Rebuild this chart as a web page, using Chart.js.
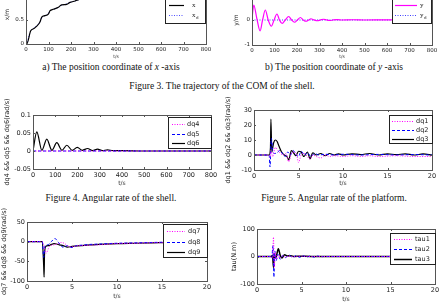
<!DOCTYPE html>
<html>
<head>
<meta charset="utf-8">
<script src="https://cdn.jsdelivr.net/npm/chart.js@4/dist/chart.umd.min.js"></script>
<style>
  body { margin: 0; width: 444px; height: 306px; overflow: hidden; background: #fff; position: relative; }
  canvas { position: absolute; }
  .cap { position: absolute; transform: translate(-50%, -50%); font-family: "Liberation Serif", serif; font-size: 9.5px; line-height: 1; white-space: nowrap; color: #111; }
</style>
</head>
<body>
<div class="cap" style="left:111px;top:68px">a) The position coordinate of <i>x</i> -axis</div>
<div class="cap" style="left:334px;top:68px">b) The position coordinate of <i>y</i> -axis</div>
<div class="cap" style="left:222px;top:87px">Figure 3. The trajectory of the COM of the shell.</div>
<div class="cap" style="left:111px;top:199px">Figure 4. Angular rate of the shell.</div>
<div class="cap" style="left:334px;top:199px">Figure 5. Angular rate of the platform.</div>
<script>
// ---- data ----
// a) x position
const tA   = [0, 3, 21, 33, 47, 62, 70, 84, 99, 107, 121, 144, 158, 181, 196, 218, 250, 300, 400, 500, 600, 700, 800];
const xA   = [0, 0, 0.27, 0.31, 0.36, 0.45, 0.55, 0.58, 0.61, 0.68, 0.71, 0.75, 0.80, 0.81, 0.85, 0.88, 0.93, 0.97, 1, 1, 1, 1, 1];
const xdA  = [0, 0.02, 0.27, 0.32, 0.37, 0.45, 0.54, 0.58, 0.62, 0.68, 0.71, 0.75, 0.79, 0.82, 0.85, 0.88, 0.93, 0.97, 1, 1, 1, 1, 1];
// b) y position
const tB   = [0, 8, 21, 36, 47, 59, 72, 86, 98, 111, 122, 134, 148, 163, 176, 189, 202, 215, 228, 240, 252, 262, 276, 290, 304, 318, 332, 346, 360, 380, 400, 450, 500, 600, 700, 800];
const yB   = [0.05, 0.6, 0.08, -0.44, 0, 0.4, 0, -0.25, 0, 0.24, 0, -0.14, 0, 0.14, 0, -0.09, 0, 0.1, 0, -0.05, 0, 0.05, 0, -0.03, 0, 0.03, 0, -0.02, 0, 0.015, 0, 0.01, 0, 0.005, 0, 0];
const tBd  = [0, 800];
const ydB  = [0, 0];
// Figure 4: shell angular rate
const t4   = [0, 17, 40, 62, 85, 107, 130, 152, 176, 199, 222, 245, 268, 290, 312, 335, 360, 400, 500, 800];
const dq6  = [0, 0.053, 0.002, 0.033, 0.002, 0.023, 0.002, 0.016, 0.002, 0.01, 0.002, 0.007, 0.001, 0.005, 0.001, 0.003, 0.001, 0.001, 0, 0];
const t4z  = [0, 800];
const dq4  = [0, 0];
const dq5  = [0, 0];
// Figure 5: platform angular rate
const t5a  = [0, 1.7, 1.8, 1.9, 2.1, 2.4, 2.7, 3.0, 3.3, 3.6, 3.9, 4.2, 4.5, 4.8, 5.0, 5.3, 5.6, 6.0, 6.3, 6.6, 7.0, 7.5, 8.0, 8.5, 9, 10, 11, 12, 13, 14, 16, 18, 20];
const dq1  = [0, 0, -2, 3, -1, 5, 3, 1, 0, 1, -4.5, 1, 2, 0, -5, 0, 1, -1, -3, 0, -1, -2, 0, -1, -0.5, -1, -0.5, -1, -0.5, -1, -0.5, -1, -1];
const t5b  = [0, 1.7, 1.8, 1.95, 2.1, 2.3, 2.6, 2.9, 3.2, 3.5, 3.8, 4.1, 4.4, 4.7, 5.0, 5.3, 5.7, 6.0, 6.4, 6.8, 7.3, 8, 9, 10, 12, 14, 16, 18, 20];
const dq2  = [0, 0, -8, 11, 3, 1, 1.5, 3, 1, -1, 2, 0, 3, 0.5, -1, 2.5, 0, 1.5, -1, 1, 0, 0.5, 0, 0.5, 0, 0.4, 0, 0.3, 0];
const t5c  = [0, 1.7, 1.85, 1.9, 2.0, 2.2, 2.4, 2.6, 2.8, 3.1, 3.4, 3.7, 3.9, 4.2, 4.5, 4.7, 5.0, 5.3, 5.6, 6.0, 6.3, 6.6, 7.0, 7.5, 8, 8.5, 9, 9.5, 10, 11, 12, 13, 14, 15, 16, 17, 18, 19, 20];
const dq3  = [0, 0, 5, 24, 2, 8, 10, 9, 6, 2, 0, -1, -3.3, 3, 1, -0.5, 2.5, 2, -1, 2, -2.5, 1.5, 0, 1, -0.5, 1, 0, 0.8, 0, 0.8, 0.3, 1, 0, 0.8, 0.2, 0.8, 0, 0.7, 0];
// Figure 6
const t6a  = [0, 1.7, 1.9, 2.1, 2.5, 3.0, 3.5, 3.8, 4.2, 4.6, 5.0, 5.5, 6, 7, 8, 10, 12, 14, 16, 20];
const dq7  = [0, 0, -12, -30, -12, -8, -5, -2, -5, -12, -13, -11, -10, -9, -8, -5, -4, -3, -2, -1];
const t6b  = [0, 1.7, 1.85, 2.0, 2.3, 2.7, 3.1, 3.5, 4.0, 4.5, 5.0, 5.5, 6, 7, 8, 10, 12, 14, 16, 20];
const dq8  = [0, 0, -40, -10, -8, 0, 8, -2, -14, -10, -15, -10, -9, -7, -6, -4, -3, -2, -1, -1];
const t6c  = [0, 1.7, 1.85, 1.9, 1.95, 2.1, 2.4, 2.7, 3.0, 3.3, 3.6, 4.0, 4.5, 5.0, 6, 7, 8, 10, 12, 14, 16, 18, 20];
const dq9  = [0, 0, -60, -90, -30, -12, -10, -7, -5, -6, -8, -10, -14, -12, -10, -8, -7, -5, -4, -3, -2, -2, -1];
// Figure 7: torques
const t7a  = [0, 1.6, 1.75, 1.85, 1.95, 2.05, 2.2, 2.4, 2.6, 2.9, 3.2, 3.6, 4, 5, 6, 20];
const tau1 = [0, 0, -5, 70, -40, 15, -10, 5, -5, 3, -3, 2, -1, 1, 0, 0];
const t7b  = [0, 1.5, 1.65, 1.8, 1.9, 2.0, 2.15, 2.35, 2.6, 2.9, 3.2, 3.6, 4.0, 4.4, 4.8, 5.2, 5.6, 6.0, 6.4, 6.8, 7.2, 7.5, 20];
const tau2 = [0, 0, -5, 40, -75, 20, -15, 8, -10, 4, -4, 5, -3, 3, -3, 2, -2, 2, -2, 1.5, -1, 0, 0];
const t7c  = [0, 1.6, 1.75, 1.85, 1.95, 2.1, 2.4, 2.6, 2.8, 3.1, 3.4, 3.8, 4.2, 5, 6, 20];
const tau3 = [0, 0, 5, -40, 10, -5, 28, 5, -5, 6, 2, 3, 0, 1, 0, 0];

// tick labels
const xTicks800 = [0, 100, 200, 300, 400, 500, 600, 700, 800];
const xTicks20  = [0, 5, 10, 15, 20];
const yTicksA   = [0, 0.5, 1];
const yTicksB   = [-1, 0, 1];
const yTicks4   = [-0.05, 0, 0.05, 0.1];
const yTicks5   = [-10, 0, 10, 20, 30];
const yTicks6   = [-100, -50, 0, 50];
const yTicks7   = [-100, 0, 100];

const pts = (t, v) => t.map((x, i) => ({ x: x, y: v[i] }));

const MAG = '#ff00ff', BLUE = '#0000ff', BLK = '#000000';
const DOT = [1, 1.5], DASH = [3, 2];

// MATLAB style box with inward ticks
const boxPlugin = {
  id: 'matBox',
  afterDatasetsDraw(chart) {
    const { ctx, chartArea: a, scales: { x, y } } = chart;
    ctx.save();
    ctx.strokeStyle = '#555';
    ctx.lineWidth = 1;
    ctx.beginPath();
    x.ticks.forEach(t => {
      const px = Math.round(x.getPixelForValue(t.value)) + 0.5;
      ctx.moveTo(px, a.bottom); ctx.lineTo(px, a.bottom - 2);
      ctx.moveTo(px, a.top); ctx.lineTo(px, a.top + 2);
    });
    y.ticks.forEach(t => {
      const py = Math.round(y.getPixelForValue(t.value)) + 0.5;
      ctx.moveTo(a.left, py); ctx.lineTo(a.left + 2, py);
      ctx.moveTo(a.right, py); ctx.lineTo(a.right - 2, py);
    });
    ctx.stroke();
    ctx.strokeRect(Math.round(a.left) + 0.5, Math.round(a.top) + 0.5, Math.round(a.width), Math.round(a.height));
    ctx.restore();
  }
};

// legend box drawn inside the plot
const legendPlugin = {
  id: 'matLegend',
  afterDatasetsDraw(chart, args, o) {
    const ctx = chart.ctx;
    const lx = o.x - o.ox, ly = o.y - o.oy;
    ctx.save();
    ctx.fillStyle = '#fff';
    ctx.fillRect(lx, ly, o.w, o.h);
    ctx.strokeStyle = '#222';
    ctx.lineWidth = 1;
    ctx.strokeRect(lx + 0.5, ly + 0.5, o.w, o.h);
    chart.data.datasets.forEach((ds, i) => {
      const yy = Math.round(ly + o.first + i * o.gap) + 0.5;
      ctx.beginPath();
      ctx.setLineDash(ds.borderDash || []);
      ctx.strokeStyle = ds.borderColor;
      ctx.lineWidth = ds.borderWidth;
      ctx.moveTo(lx + o.l0, yy);
      ctx.lineTo(lx + o.l1, yy);
      ctx.stroke();
      ctx.setLineDash([]);
      ctx.fillStyle = '#222';
      ctx.font = o.font;
      ctx.textBaseline = 'middle';
      ctx.fillText(ds.label, lx + o.tx, yy);
      if (ds.sub) {
        const w = ctx.measureText(ds.label).width;
        ctx.font = o.subFont;
        ctx.fillText(ds.sub, lx + o.tx + w + 0.5, yy + 2.5);
      }
    });
    ctx.restore();
  }
};

function makeChart(p) {
  const cv = document.createElement('canvas');
  cv.width = p.w; cv.height = p.h;
  cv.style.left = p.left + 'px';
  cv.style.top = p.top + 'px';
  cv.style.width = p.w + 'px';
  cv.style.height = p.h + 'px';
  document.body.appendChild(cv);

  const tickFont = { family: 'DejaVu Sans', size: p.tickSize };
  p.legend.ox = p.left;
  p.legend.oy = p.top;

  return new Chart(cv.getContext('2d'), {
    type: 'line',
    data: { datasets: p.datasets },
    plugins: [boxPlugin, legendPlugin],
    options: {
      responsive: false,
      animation: false,
      devicePixelRatio: 1,
      layout: { padding: { top: p.area.top - p.top, right: p.left + p.w - p.area.right, left: 0, bottom: 0 } },
      elements: { point: { radius: 0 }, line: { cubicInterpolationMode: 'monotone' } },
      plugins: { legend: { display: false }, tooltip: { enabled: false }, matLegend: p.legend },
      scales: {
        x: {
          type: 'linear', min: p.xMin, max: p.xMax,
          afterBuildTicks: s => { s.ticks = p.xTicks.map(v => ({ value: v })); },
          afterFit: s => { s.height = p.top + p.h - p.area.bottom; },
          grid: { display: false, drawTicks: false },
          border: { display: false },
          ticks: { padding: 2, font: tickFont, color: '#222', maxRotation: 0, autoSkip: false, callback: v => String(v) },
          title: { display: true, text: 't/s', color: '#333', font: { family: 'DejaVu Sans', size: p.xTitleSize }, padding: { top: 0, bottom: 0 } }
        },
        y: {
          type: 'linear', min: p.yMin, max: p.yMax,
          afterBuildTicks: s => { s.ticks = p.yTicks.map(v => ({ value: v })); },
          afterFit: s => { s.width = p.area.left - p.left; },
          grid: { display: false, drawTicks: false },
          border: { display: false },
          ticks: { padding: 2, font: tickFont, color: '#222', autoSkip: false, callback: v => String(v) },
          title: { display: true, text: p.yTitle, color: '#222', font: { family: 'DejaVu Sans', size: p.yTitleSize }, padding: { top: p.yTitlePad, bottom: 0 } }
        }
      }
    }
  });
}

// a) x coordinate
makeChart({
  left: 0, top: -20, w: 222, h: 80,
  area: { left: 26, right: 206, top: -16, bottom: 44 },
  xMin: 0, xMax: 800, xTicks: xTicks800,
  yMin: 0, yMax: 1.2, yTicks: yTicksA,
  tickSize: 5.5, xTitleSize: 4.5, yTitle: 'x/m', yTitleSize: 6, yTitlePad: 4,
  legend: { x: 165, y: -4, w: 40, h: 27, first: 9, gap: 10, l0: 4, l1: 19, tx: 27,
            font: '7px "Liberation Serif"', subFont: '5px "Liberation Serif"' },
  datasets: [
    { label: 'x', data: pts(tA, xA), borderColor: BLK, borderWidth: 1.2 },
    { label: 'x', sub: 'd', data: pts(tA, xdA), borderColor: '#5050ff', borderWidth: 1, borderDash: DOT }
  ]
});

// b) y coordinate
makeChart({
  left: 222, top: -20, w: 222, h: 80,
  area: { left: 252, right: 432, top: -5, bottom: 45 },
  xMin: 0, xMax: 800, xTicks: xTicks800,
  yMin: -1, yMax: 1, yTicks: yTicksB,
  tickSize: 5.5, xTitleSize: 4.5, yTitle: 'y/m', yTitleSize: 6, yTitlePad: 11,
  legend: { x: 392, y: -4, w: 39, h: 27, first: 9, gap: 10, l0: 3, l1: 25, tx: 28,
            font: '7px "Liberation Serif"', subFont: '5px "Liberation Serif"' },
  datasets: [
    { label: 'y', data: pts(tB, yB), borderColor: MAG, borderWidth: 1.2 },
    { label: 'y', sub: 'd', data: pts(tBd, ydB), borderColor: '#4040ff', borderWidth: 1, borderDash: DOT }
  ]
});

// Figure 4
makeChart({
  left: 0, top: 95, w: 222, h: 92,
  area: { left: 33, right: 211, top: 115, bottom: 169 },
  xMin: 0, xMax: 800, xTicks: xTicks800,
  yMin: -0.05, yMax: 0.1, yTicks: yTicks4,
  tickSize: 6.5, xTitleSize: 6, yTitle: 'dq4 && dq5 && dq6(rad/s)', yTitleSize: 6.5, yTitlePad: 3,
  legend: { x: 168, y: 117, w: 43, h: 31, first: 7, gap: 9.5, l0: 4, l1: 17, tx: 19,
            font: '6.5px "DejaVu Sans"' },
  datasets: [
    { label: 'dq4', data: pts(t4z, dq4), borderColor: MAG, borderWidth: 1, borderDash: DOT },
    { label: 'dq5', data: pts(t4z, dq5), borderColor: BLUE, borderWidth: 1, borderDash: DASH },
    { label: 'dq6', data: pts(t4, dq6), borderColor: BLK, borderWidth: 1.2 }
  ]
});

// Figure 5
makeChart({
  left: 222, top: 95, w: 222, h: 92,
  area: { left: 254, right: 432, top: 110, bottom: 170 },
  xMin: 0, xMax: 20, xTicks: xTicks20,
  yMin: -10, yMax: 30, yTicks: yTicks5,
  tickSize: 6.5, xTitleSize: 6, yTitle: 'dq1 && dq2 && dq3(rad/s)', yTitleSize: 6.5, yTitlePad: 2,
  legend: { x: 389, y: 115, w: 43, h: 28, first: 6, gap: 9, l0: 3, l1: 25, tx: 27,
            font: '6.5px "DejaVu Sans"' },
  datasets: [
    { label: 'dq1', data: pts(t5a, dq1), borderColor: MAG, borderWidth: 1, borderDash: DOT },
    { label: 'dq2', data: pts(t5b, dq2), borderColor: BLUE, borderWidth: 1, borderDash: DASH },
    { label: 'dq3', data: pts(t5c, dq3), borderColor: BLK, borderWidth: 1.2 }
  ]
});

// Figure 6
makeChart({
  left: 0, top: 205, w: 222, h: 95,
  area: { left: 27, right: 207, top: 222, bottom: 281 },
  xMin: 0, xMax: 20, xTicks: xTicks20,
  yMin: -100, yMax: 50, yTicks: yTicks6,
  tickSize: 6.5, xTitleSize: 6, yTitle: 'dq7 && dq8 && dq9(rad/s)', yTitleSize: 6.5, yTitlePad: 0,
  legend: { x: 163, y: 224, w: 44, h: 33, first: 7, gap: 10.5, l0: 4, l1: 22, tx: 25,
            font: '6.5px "DejaVu Sans"' },
  datasets: [
    { label: 'dq7', data: pts(t6a, dq7), borderColor: MAG, borderWidth: 1, borderDash: DOT },
    { label: 'dq8', data: pts(t6b, dq8), borderColor: BLUE, borderWidth: 1, borderDash: DASH },
    { label: 'dq9', data: pts(t6c, dq9), borderColor: BLK, borderWidth: 1.2 }
  ]
});

// Figure 7
makeChart({
  left: 222, top: 205, w: 222, h: 98,
  area: { left: 257, right: 435, top: 229, bottom: 284 },
  xMin: 0, xMax: 20, xTicks: xTicks20,
  yMin: -100, yMax: 100, yTicks: yTicks7,
  tickSize: 6.5, xTitleSize: 6, yTitle: 'tau(N.m)', yTitleSize: 6.5, yTitlePad: 8,
  legend: { x: 390, y: 233, w: 45, h: 31, first: 6, gap: 10, l0: 4, l1: 22, tx: 25,
            font: '6.5px "DejaVu Sans"' },
  datasets: [
    { label: 'tau1', data: pts(t7a, tau1), borderColor: MAG, borderWidth: 1, borderDash: DOT },
    { label: 'tau2', data: pts(t7b, tau2), borderColor: BLUE, borderWidth: 1, borderDash: DASH },
    { label: 'tau3', data: pts(t7c, tau3), borderColor: BLK, borderWidth: 1.5 }
  ]
});
</script>
</body>
</html>
